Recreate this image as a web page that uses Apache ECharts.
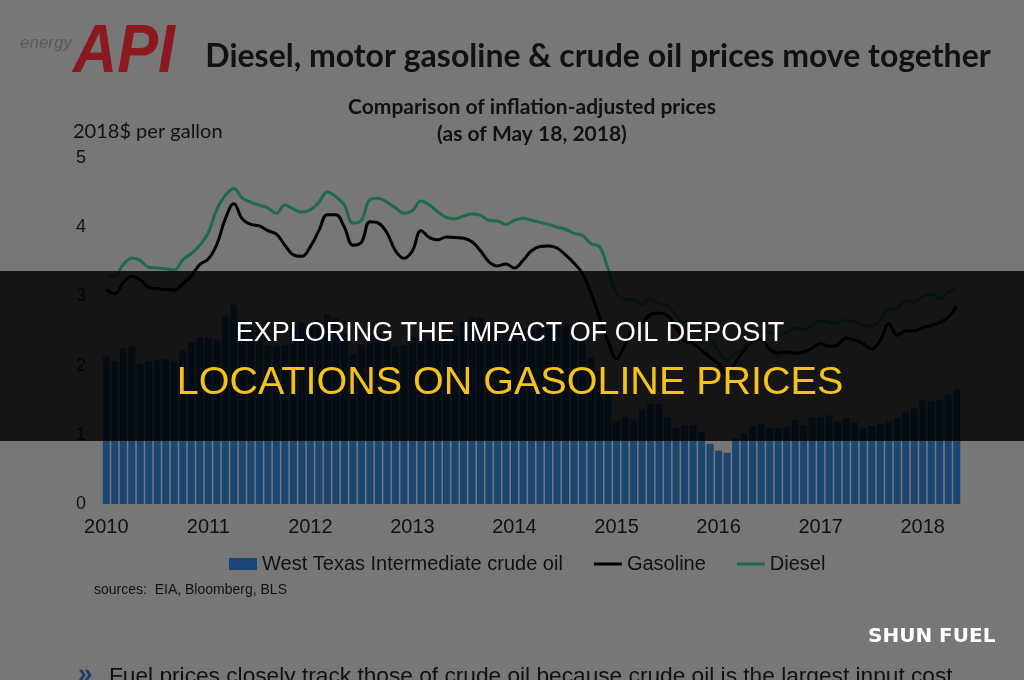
<!DOCTYPE html>
<html>
<head>
<meta charset="utf-8">
<script src="https://cdn.jsdelivr.net/npm/echarts@6/dist/echarts.min.js"></script>
<style>
  html, body { margin: 0; padding: 0; background: #777777; }
  #chart { width: 1024px; height: 680px; }
</style>
</head>
<body>
<div id="chart"></div>
<script>
// year tick labels, monthly data Jan 2010 .. May 2018
const years = ["2010", "2011", "2012", "2013", "2014", "2015", "2016", "2017", "2018"];
const monthsInLastYear = 5;
const yTicks = [0, 1, 2, 3, 4, 5];
const seriesNames = ["West Texas Intermediate crude oil", "Gasoline", "Diesel"];

// 2018$ per gallon
const wti = [
  2.13, 2.07, 2.25, 2.28, 2.03, 2.06, 2.08, 2.10, 2.06, 2.22, 2.34, 2.40,
  2.41, 2.38, 2.72, 2.88, 2.66, 2.55, 2.58, 2.30, 2.28, 2.30, 2.58, 2.62,
  2.62, 2.66, 2.74, 2.68, 2.46, 2.16, 2.30, 2.44, 2.46, 2.34, 2.27, 2.30,
  2.42, 2.43, 2.38, 2.36, 2.41, 2.44, 2.64, 2.70, 2.68, 2.56, 2.40, 2.48,
  2.38, 2.52, 2.52, 2.55, 2.55, 2.62, 2.58, 2.42, 2.34, 2.12, 1.92, 1.62,
  1.20, 1.26, 1.22, 1.36, 1.45, 1.45, 1.26, 1.10, 1.14, 1.14, 1.04, 0.87,
  0.77, 0.74, 0.95, 1.02, 1.12, 1.16, 1.10, 1.10, 1.12, 1.22, 1.14, 1.26,
  1.26, 1.28, 1.20, 1.24, 1.18, 1.10, 1.13, 1.16, 1.20, 1.24, 1.34, 1.38,
  1.50, 1.48, 1.50, 1.58, 1.66
];
const gasoline = [
  3.10, 3.04, 3.20, 3.29, 3.24, 3.13, 3.11, 3.10, 3.09, 3.18, 3.30, 3.46,
  3.54, 3.75, 4.12, 4.34, 4.12, 4.04, 4.02, 3.95, 3.90, 3.74, 3.60, 3.58,
  3.72, 3.95, 4.18, 4.18, 4.00, 3.74, 3.78, 4.08, 4.06, 3.92, 3.66, 3.55,
  3.66, 3.95, 3.85, 3.82, 3.86, 3.85, 3.84, 3.79, 3.66, 3.50, 3.44, 3.47,
  3.41, 3.52, 3.66, 3.72, 3.73, 3.70, 3.60, 3.48, 3.33, 3.05, 2.70, 2.35,
  2.10, 2.30, 2.55, 2.62, 2.74, 2.76, 2.72, 2.56, 2.36, 2.32, 2.22, 2.12,
  2.02, 1.86, 2.05, 2.22, 2.36, 2.38, 2.24, 2.18, 2.20, 2.18, 2.20, 2.25,
  2.32, 2.28, 2.30, 2.40, 2.37, 2.32, 2.24, 2.36, 2.60, 2.44, 2.50, 2.50,
  2.55, 2.58, 2.62, 2.70, 2.86
];
const diesel = [
  3.30, 3.30, 3.46, 3.55, 3.52, 3.42, 3.41, 3.40, 3.38, 3.53, 3.62, 3.74,
  3.92, 4.26, 4.46, 4.56, 4.42, 4.36, 4.32, 4.28, 4.20, 4.32, 4.26, 4.22,
  4.25, 4.36, 4.51, 4.44, 4.32, 4.06, 4.10, 4.40, 4.42, 4.36, 4.28, 4.20,
  4.24, 4.38, 4.32, 4.22, 4.14, 4.12, 4.16, 4.19, 4.17, 4.10, 4.09, 4.04,
  4.10, 4.13, 4.10, 4.07, 4.04, 4.00, 3.97, 3.91, 3.88, 3.76, 3.72, 3.40,
  3.04, 2.96, 2.95, 2.88, 2.97, 2.90, 2.86, 2.72, 2.62, 2.62, 2.56, 2.38,
  2.22, 2.08, 2.18, 2.26, 2.40, 2.50, 2.48, 2.44, 2.48, 2.54, 2.52, 2.58,
  2.65, 2.63, 2.62, 2.66, 2.63, 2.58, 2.57, 2.66, 2.82, 2.83, 2.93, 2.92,
  3.00, 3.03, 2.97, 3.06, 3.12
];

const months = [];
years.forEach((y, i) => {
  const n = i === years.length - 1 ? monthsInLastYear : 12;
  for (let m = 1; m <= n; m++) months.push(y + "-" + String(m).padStart(2, "0"));
});

const chart = echarts.init(document.getElementById("chart"));
const ink = "#111111";
const axisFont = "Liberation Sans";
const lineIcon = "path://M0,0 H28 V3 H0 Z";

chart.setOption({
  animation: false,
  backgroundColor: "#777777",
  grid: { left: 102, right: 63, top: 158, bottom: 176 },
  legend: {
    left: 224,
    top: 549,
    itemWidth: 28,
    itemHeight: 12,
    itemGap: 31,
    textStyle: { color: ink, fontSize: 20, fontFamily: axisFont },
    data: [
      { name: seriesNames[0], icon: "rect" },
      { name: seriesNames[1], icon: lineIcon },
      { name: seriesNames[2], icon: lineIcon }
    ]
  },
  xAxis: {
    type: "category",
    data: months,
    axisLine: { show: false },
    axisTick: { show: false },
    axisLabel: {
      interval: (idx) => idx % 12 === 0,
      formatter: (v) => v.slice(0, 4),
      margin: 13,
      color: ink,
      fontSize: 20,
      fontFamily: axisFont
    }
  },
  yAxis: {
    type: "value",
    min: yTicks[0],
    max: yTicks[yTicks.length - 1],
    interval: 1,
    splitLine: { show: false },
    axisLine: { show: false },
    axisTick: { show: false },
    axisLabel: { margin: 16, color: ink, fontSize: 18, fontFamily: axisFont }
  },
  series: [
    {
      name: seriesNames[0],
      type: "bar",
      data: wti,
      barCategoryGap: "18%",
      itemStyle: { color: "#1b4674" }
    },
    {
      name: seriesNames[1],
      type: "line",
      data: gasoline,
      smooth: 0.4,
      symbol: "none",
      lineStyle: { color: "#000000", width: 3 },
      itemStyle: { color: "#000000" }
    },
    {
      name: seriesNames[2],
      type: "line",
      data: diesel,
      smooth: 0.4,
      symbol: "none",
      lineStyle: { color: "#1d6b48", width: 3 },
      itemStyle: { color: "#1d6b48" }
    }
  ],
  graphic: [
    // logo
    { type: "text", x: 20, y: 43, z: 10,
      style: { text: "energy", font: "italic 17px Liberation Sans", fill: "#5a5a5a", verticalAlign: "middle" } },
    { type: "text", x: 73, y: 53, z: 10, scaleX: 0.9,
      style: { text: "API", font: "bold italic 68px Liberation Sans", fill: "#8b1a20", verticalAlign: "middle" } },
    // titles
    { type: "text", x: 598, y: 57, z: 10,
      style: { text: "Diesel, motor gasoline & crude oil prices move together", font: "bold 32px Lato", fill: ink, align: "center", verticalAlign: "middle" } },
    { type: "text", x: 532, y: 107, z: 10,
      style: { text: "Comparison of inflation-adjusted prices", font: "bold 21px Lato", fill: ink, align: "center", verticalAlign: "middle" } },
    { type: "text", x: 532, y: 134, z: 10,
      style: { text: "(as of May 18, 2018)", font: "bold 21px Lato", fill: ink, align: "center", verticalAlign: "middle" } },
    { type: "text", x: 73, y: 132, z: 10,
      style: { text: "2018$ per gallon", font: "20px Lato", fill: ink, verticalAlign: "middle" } },
    // sources + bottom bullet text
    { type: "text", x: 94, y: 590, z: 10,
      style: { text: "sources:  EIA, Bloomberg, BLS", font: "14px Liberation Sans", fill: ink, verticalAlign: "middle" } },
    { type: "text", x: 78, y: 675, z: 10,
      style: { text: "»", font: "bold 26px Liberation Sans", fill: "#1f3d66", verticalAlign: "middle" } },
    { type: "text", x: 109, y: 677, z: 10,
      style: { text: "Fuel prices closely track those of crude oil because crude oil is the largest input cost", font: "22.7px Liberation Sans", fill: ink, verticalAlign: "middle" } },
    // banner overlay
    { type: "rect", z: 100, shape: { x: 0, y: 271, width: 1024, height: 170 },
      style: { fill: "rgba(0,0,0,0.82)" } },
    { type: "text", x: 510, y: 334, z: 101,
      style: { text: "EXPLORING THE IMPACT OF OIL DEPOSIT", font: "27px Liberation Sans", fill: "#ffffff", align: "center", verticalAlign: "middle" } },
    { type: "text", x: 510, y: 383, z: 101,
      style: { text: "LOCATIONS ON GASOLINE PRICES", font: "39.5px Liberation Sans", fill: "#f5c21b", align: "center", verticalAlign: "middle" } },
    { type: "text", x: 868, y: 637, z: 101,
      style: { text: "SHUN FUEL", font: "bold 20px DejaVu Sans", fill: "#ffffff", verticalAlign: "middle" } }
  ]
});
</script>
</body>
</html>
